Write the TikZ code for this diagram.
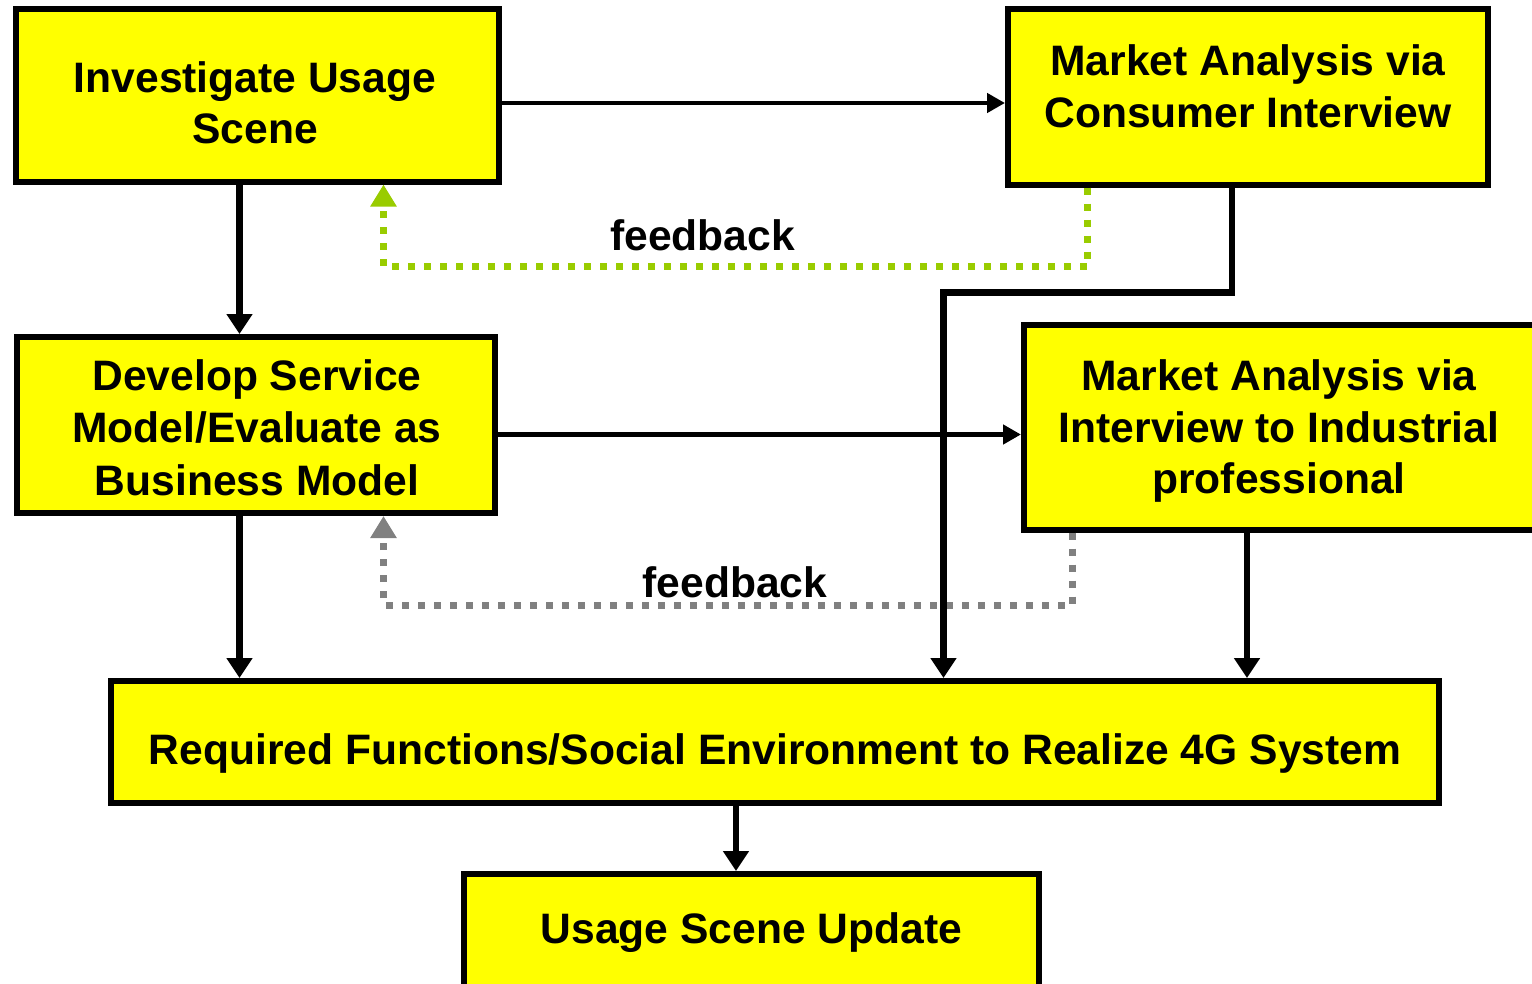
\documentclass[tikz,border=0pt]{standalone}
\usepackage{fontspec}
\setmainfont{Liberation Sans}
\usetikzlibrary{arrows.meta}
\definecolor{boxyellow}{RGB}{255,255,0}
\definecolor{fbgreen}{RGB}{153,204,0}
\definecolor{fbgray}{RGB}{128,128,128}
\tikzset{
  box/.style={draw=black, fill=boxyellow, line width=6pt, inner sep=0pt, rectangle},
  boxtext/.style={inner sep=0pt, align=center, font=\fontsize{42.6}{51.5}\selectfont\bfseries},
  varr/.style={draw=black, line width=6.5pt, -{Triangle[width=25pt,length=20pt]}},
  harr/.style={draw=black, line width=4.5pt, -{Triangle[width=19pt,length=18pt]}},
  fbline/.style={line width=7pt, dash pattern=on 7pt off 9pt, -{Triangle[width=25pt,length=22pt]}},
}
\begin{document}
\begin{tikzpicture}[x=1pt,y=-1pt]
\clip (0,0) rectangle (1532,983);
\fill[white] (0,0) rectangle (1532,983);
% boxes
\node[box, minimum width=483pt, minimum height=172.5pt] (b1) at (257.5,95.25) {};
\node[box, minimum width=480pt, minimum height=175.5pt] (b2) at (1248,96.75) {};
\node[box, minimum width=478pt, minimum height=176pt] (b3) at (256,425) {};
\node[box, minimum width=521pt, minimum height=204.5pt] (b4) at (1284.5,427.25) {};
\node[box, minimum width=1328pt, minimum height=122pt] (b5) at (775,742) {};
\node[box, minimum width=574.5pt, minimum height=126pt] (b6) at (751.25,937) {};
% texts
\node[boxtext] (t1) at (255,102.6) {Investigate Usage\\Scene};
\node[boxtext] (t2) at (1248,86.4) {Market Analysis via\\Consumer Interview};
\node[boxtext, font=\fontsize{42.6}{52.5}\selectfont\bfseries] (t3) at (257,427.4) {Develop Service\\Model/Evaluate as\\Business Model};
\node[boxtext] (t4) at (1279,431.1) {Market Analysis via\\Interview to Industrial\\professional};
\node[boxtext, anchor=base] (t5) at (775,764) {Required Functions/Social Environment to Realize 4G System};
\node[boxtext, anchor=base] (t6) at (751.5,943) {Usage Scene Update};
% helper coordinates
\coordinate (cA) at (239.5,0);
\coordinate (cG) at (383.5,0);
\coordinate (cM) at (943.5,0);
\coordinate (cR) at (1232,0);
\coordinate (cF1) at (1087.5,0);
\coordinate (cF2) at (1072,0);
\coordinate (cB) at (1247,0);
\coordinate (cU) at (736,0);
\coordinate (r1) at (0,103);
\coordinate (r3) at (0,434.5);
\coordinate (rF1) at (0,266.5);
\coordinate (rF2) at (0,605);
\coordinate (rM) at (0,292.5);
% feedback loops
\draw[fbline, draw=fbgreen] (b2.south -| cF1) |- (rF1 -| cG) -- (b1.south -| cG);
\draw[fbline, draw=fbgray] (b4.south -| cF2) |- (rF2 -| cG) -- (b3.south -| cG);
\node[boxtext, anchor=base] (fb1) at (702.5,250) {feedback};
\node[boxtext, anchor=base] (fb2) at (735,597) {feedback};
% main connectors
\draw[harr] (b1.east |- r1) -- (b2.west |- r1);
\draw[harr] (b3.east |- r3) -- (b4.west |- r3);
\draw[varr] (b1.south -| cA) -- (b3.north -| cA);
\draw[varr] (b3.south -| cA) -- (b5.north -| cA);
\draw[varr] (b2.south -| cR) |- (rM -| cM) -- (b5.north -| cM);
\draw[varr] (b4.south -| cB) -- (b5.north -| cB);
\draw[varr] (b5.south -| cU) -- (b6.north -| cU);
\end{tikzpicture}
\end{document}
